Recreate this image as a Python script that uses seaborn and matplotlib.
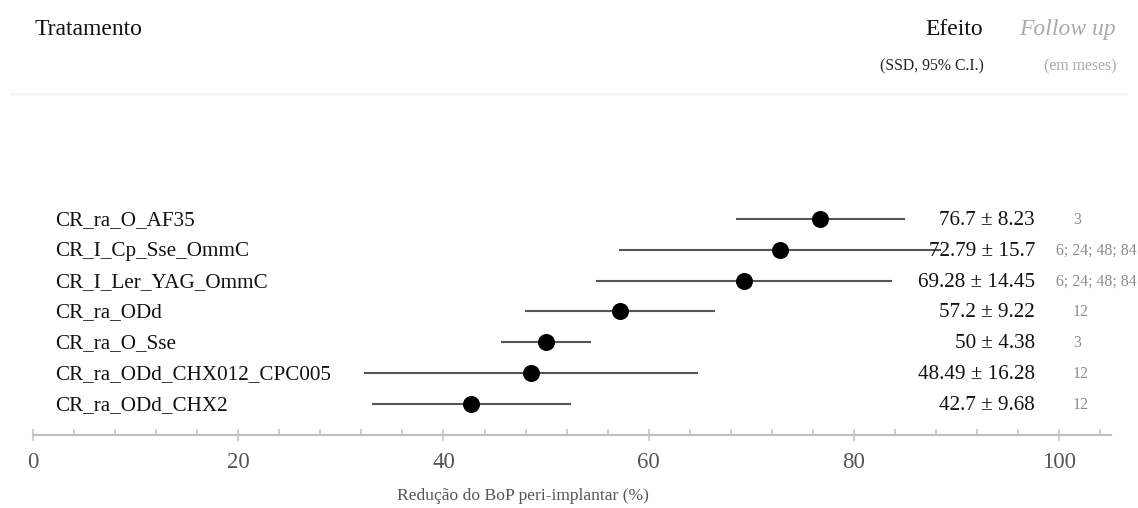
import matplotlib
matplotlib.use("Agg")
import matplotlib.pyplot as plt
import matplotlib.transforms as mtransforms
from matplotlib.ticker import MultipleLocator, FixedLocator
import seaborn as sns
import pandas as pd

# ---- data ----
treatments = ["CR_ra_O_AF35", "CR_I_Cp_Sse_OmmC", "CR_I_Ler_YAG_OmmC", "CR_ra_ODd",
              "CR_ra_O_Sse", "CR_ra_ODd_CHX012_CPC005", "CR_ra_ODd_CHX2"]
effect = [76.7, 72.79, 69.28, 57.2, 50, 48.49, 42.7]
spread = [8.23, 15.7, 14.45, 9.22, 4.38, 16.28, 9.68]
effect_labels = ["76.7 ± 8.23", "72.79 ± 15.7", "69.28 ± 14.45", "57.2 ± 9.22",
                 "50 ± 4.38", "48.49 ± 16.28", "42.7 ± 9.68"]
followup = ["3", "6; 24; 48; 84", "6; 24; 48; 84", "12", "3", "12", "12"]
x_ticks = [0, 20, 40, 60, 80, 100]
x_label = "Redução do BoP peri-implantar (%)"

df = pd.DataFrame({"treatment": treatments, "effect": effect, "spread": spread,
                   "row": list(range(len(treatments)))})
df["lo"] = df["effect"] - df["spread"]
df["hi"] = df["effect"] + df["spread"]

sns.set_theme(style="white")
plt.rcParams["font.family"] = ["Liberation Serif", "DejaVu Serif"]

W, H = 1138, 508
fig = plt.figure(figsize=(W / 100, H / 100), dpi=100)

def fx(px):
    return px / W

def fy(py):
    return 1 - py / H

# axes geometry in pixels
ax_left, ax_right = 33, 1110.5
ax_top, ax_bottom = 100, 435
row0, row_step = 219, 30.8
ax = fig.add_axes([fx(ax_left), fy(ax_bottom), fx(ax_right - ax_left), (ax_bottom - ax_top) / H])

ax.hlines(df["row"], df["lo"], df["hi"], color="#555555", lw=1.5, zorder=2)
sns.scatterplot(data=df, x="effect", y="row", ax=ax, color="black", s=150,
                edgecolor="black", linewidth=0, zorder=3, legend=False)

ax.set_xlim(0, 105)
y_bottom = (ax_bottom - row0) / row_step
y_top = (ax_top - row0) / row_step
ax.set_ylim(y_bottom, y_top)

for s in ["top", "right", "left"]:
    ax.spines[s].set_visible(False)
ax.spines["bottom"].set_color("#c0c0c0")
ax.spines["bottom"].set_linewidth(1.6)
ax.set_yticks([])
ax.set_ylabel("")
ax.set_xlabel("")
ax.xaxis.set_major_locator(FixedLocator(x_ticks))
ax.xaxis.set_minor_locator(MultipleLocator(4))
ax.set_xticklabels([str(t) for t in x_ticks])
ax.tick_params(axis="x", which="major", direction="inout", length=8, width=1.1,
               color="#c0c0c0", labelsize=16.5, labelcolor="#555555", pad=8, bottom=True)
ax.tick_params(axis="x", which="minor", direction="in", length=4.3, width=1.1,
               color="#c0c0c0", bottom=True)
ax.grid(False)

trans = mtransforms.blended_transform_factory(fig.transFigure, ax.transData)
for i, (name, lab, fu) in enumerate(zip(treatments, effect_labels, followup)):
    ax.text(fx(55), i - 0.03, name, transform=trans, ha="left", va="center_baseline",
            fontsize=15.2, color="#111111")
    ax.text(fx(1035), i - 0.03, lab, transform=trans, ha="right", va="center_baseline",
            fontsize=15.2, color="#111111")
    if len(fu) > 4:
        ax.text(fx(1137), i - 0.03, fu, transform=trans, ha="right", va="center_baseline",
                fontsize=11.4, color="#8c8c8c")
    else:
        ax.text(fx(1073), i - 0.03, fu, transform=trans, ha="left", va="center_baseline",
                fontsize=11.4, color="#8c8c8c")

# headers
fig.text(fx(35), fy(27), "Tratamento", ha="left", va="center_baseline", fontsize=17, color="#111111")
fig.text(fx(983), fy(27), "Efeito", ha="right", va="center_baseline", fontsize=17, color="#111111")
fig.text(fx(1116), fy(27), "Follow up", ha="right", va="center_baseline", fontsize=17,
         color="#aaaaaa", style="italic")
fig.text(fx(984), fy(64), "(SSD, 95% C.I.)", ha="right", va="center_baseline", fontsize=11.3, color="#222222")
fig.text(fx(1116), fy(64), "(em meses)", ha="right", va="center_baseline", fontsize=11.3, color="#aaaaaa")
fig.add_artist(plt.Line2D([fx(10), fx(1127)], [fy(94), fy(94)], color="#eeeeee", lw=1.0))

fig.text(fx(523), fy(494), x_label, ha="center", va="center_baseline", fontsize=12.6, color="#555555")

fig.savefig("out.png", dpi=100, facecolor="white")
